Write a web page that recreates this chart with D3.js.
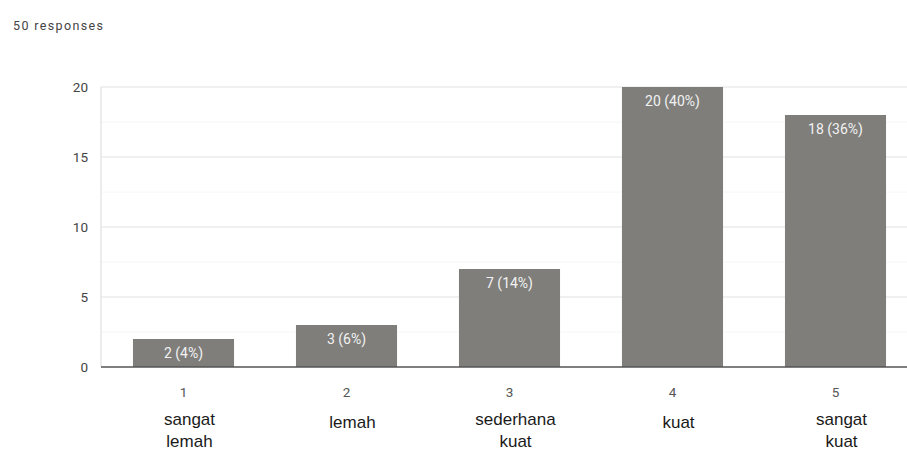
<!DOCTYPE html>
<html><head><meta charset="utf-8">
<script src="https://cdn.jsdelivr.net/npm/d3@7"></script>
<style>body{margin:0;background:#fff}svg{display:block}</style>
</head><body>
<svg id="c" width="907" height="452"></svg>
<script>
const categories = ["1","2","3","4","5"];
const values = [2,3,7,20,18];
const valueLabels = ["2 (4%)","3 (6%)","7 (14%)","20 (40%)","18 (36%)"];
const categoryNames = [["sangat","lemah"],["lemah"],["sederhana","kuat"],["kuat"],["sangat","kuat"]];
const yTicks = [0,5,10,15,20];
const minorTicks = [2.5,7.5,12.5,17.5];
const total = 50;

const svg = d3.select("#c");
svg.append("text").attr("x",13).attr("y",30).attr("font-family","Roboto, sans-serif")
  .attr("font-size",12.5).attr("fill","#444").attr("textLength",90).attr("lengthAdjust","spacing")
  .text(total+" responses");

const x = d3.scaleBand().domain(categories).range([102,917]).paddingInner(0.38).paddingOuter(0.19);
const y = d3.scaleLinear().domain([0,20]).range([367,87]);
const left = 101, right = 907;

svg.selectAll(".minor").data(minorTicks).enter().append("line")
  .attr("x1",left).attr("x2",right).attr("y1",d=>y(d)).attr("y2",d=>y(d))
  .attr("stroke","#f6f6f6").attr("stroke-width",1);
svg.selectAll(".major").data(yTicks.filter(d=>d>0)).enter().append("line")
  .attr("x1",left).attr("x2",right).attr("y1",d=>y(d)).attr("y2",d=>y(d))
  .attr("stroke","#ebebeb").attr("stroke-width",1.5);
svg.append("line").attr("x1",left).attr("x2",left).attr("y1",y(20)).attr("y2",y(0))
  .attr("stroke","#e6e6e6").attr("stroke-width",1.5);

const yAxis = d3.axisLeft(y).tickValues(yTicks).tickSize(0).tickPadding(0);
const ga = svg.append("g").attr("transform","translate(88,0)").call(yAxis);
ga.select(".domain").remove();
ga.selectAll("text").attr("font-family","Roboto, sans-serif").attr("font-size",13.5).attr("fill","#444");

svg.selectAll(".bar").data(values).enter().append("rect")
  .attr("x",(d,i)=>x(categories[i])).attr("width",x.bandwidth())
  .attr("y",d=>y(d)).attr("height",d=>y(0)-y(d)).attr("fill","#7f7e7b");

svg.selectAll(".bl").data(values).enter().append("text")
  .attr("x",(d,i)=>x(categories[i])+x.bandwidth()/2).attr("y",d=>y(d)+19)
  .attr("text-anchor","middle").attr("font-family","Roboto, sans-serif").attr("font-size",14)
  .attr("fill","#f2f2f2")
  .text((d,i)=>valueLabels[i]);

svg.append("line").attr("x1",left).attr("x2",right).attr("y1",y(0)).attr("y2",y(0))
  .attr("stroke","#555").attr("stroke-width",1.5);

const xAxis = d3.axisBottom(x).tickSize(0).tickPadding(0);
const gx = svg.append("g").attr("transform","translate(0,397)").call(xAxis);
gx.select(".domain").remove();
gx.selectAll("text").attr("dy",0).attr("font-family","Roboto, sans-serif").attr("font-size",13.5).attr("fill","#555");

const cg = svg.selectAll(".cn").data(categoryNames).enter().append("text")
  .attr("text-anchor","middle").attr("font-family","'Liberation Sans', Arial, sans-serif")
  .attr("font-size",17).attr("fill","#1a1a1a")
  .attr("x",(d,i)=>x(categories[i])+x.bandwidth()/2+6)
  .attr("y",d=>d.length===1?428:425);
cg.selectAll("tspan").data(d=>d).enter().append("tspan")
  .attr("x",function(){return this.parentNode.getAttribute("x");})
  .attr("dy",(d,i)=>i===0?0:22).text(d=>d);
</script>
</body></html>
